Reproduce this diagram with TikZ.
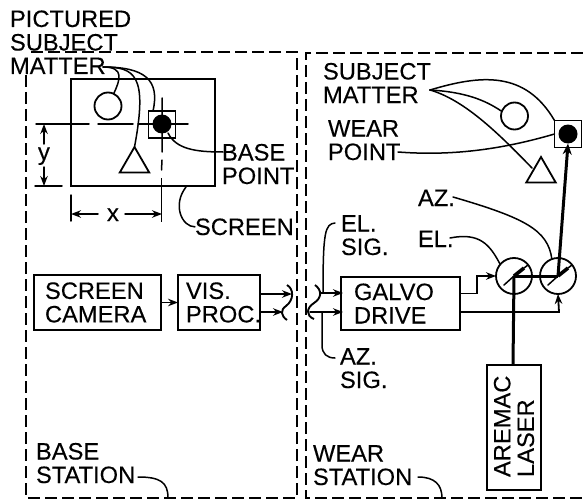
\documentclass[tikz,border=0pt]{standalone}
\usepackage{fontspec}
\setmainfont[FakeBold=0.25]{Liberation Sans}
\usetikzlibrary{arrows.meta,shapes.geometric}
\tikzset{
  lbl/.style={inner sep=0pt,outer sep=0pt,align=left,anchor=base west,font=\fontsize{23.7}{23.5}\selectfont},
  thinl/.style={line width=1.5pt,line cap=round},
  ln/.style={draw,line width=1.8pt},
  thickl/.style={line width=3pt},
  boundary/.style={line width=1.5pt,dash pattern=on 12pt off 5pt},
  arr/.style={-{Stealth[length=10pt,width=7.5pt]}},
  boxx/.style={ln,rectangle,inner sep=0pt,outer sep=0pt,align=left,font=\fontsize{23.7}{23.5}\selectfont},
  ring/.style={ln,circle,inner sep=0pt,outer sep=0pt},
  blob/.style={circle,fill=black,inner sep=0pt,outer sep=0pt,minimum size=19pt},
  frameb/.style={ln,rectangle,inner sep=0pt,outer sep=0pt,minimum size=27pt},
  tri/.style={ln,regular polygon,regular polygon sides=3,inner sep=0pt,outer sep=0pt,minimum size=34pt}
}
\begin{document}
\begin{tikzpicture}[x=1pt,y=-1pt]
\useasboundingbox (0,0) rectangle (583,500);
% station boundaries
\coordinate (bl) at (26,75); \coordinate (bb) at (26,498); \coordinate (br) at (297,498); \coordinate (bt) at (297,52); \coordinate (btl) at (27,52);
\draw[boundary] (bl) -- (bb) -- (br) -- (bt) -- (btl);
\coordinate (wt) at (583,53); \coordinate (wtl) at (306,53); \coordinate (wb) at (306,498); \coordinate (wbr) at (583,498);
\draw[boundary] (wt) -- (wtl) -- (wb) -- (wbr);
% left labels
\node[lbl] (pictured) at (10,74) {PICTURED\\SUBJECT\\MATTER};
\node[lbl] (basepoint) at (222,184) {BASE\\POINT};
\node[lbl] (screenlbl) at (195,235) {SCREEN};
\node[lbl] (basest) at (36,483) {BASE\\STATION};
% screen
\node[ln,rectangle,minimum width=144pt,minimum height=107pt,inner sep=0pt,outer sep=0pt] (screen) at (143,132.5) {};
\node[ring,minimum size=27pt] (c1) at (108,106) {};
\node[tri] (t1) at (134.5,164) {};
\node[frameb] (s1) at (162,124.5) {};
\node[blob] (d1) at (162,124) {};
% cross lines
\coordinate (h0) at (36,124); \coordinate (h1) at (89,124); \coordinate (h2) at (98,124); \coordinate (h3) at (133,124); \coordinate (h4) at (138,124); \coordinate (h5) at (188,124);
\draw[thinl] (h0)--(h1) (h2)--(h3) (h4)--(h5);
\coordinate (v0) at (162,98); \coordinate (v1) at (162,152); \coordinate (v2) at (162,160); \coordinate (v3) at (161.5,170); \coordinate (v4) at (161.5,178); \coordinate (v5) at (161.5,222);
\draw[thinl] (v0)--(v1) (v2)--(v3);
\draw[line width=1.9pt] (v4)--(v5);
\coordinate (r0) at (35,186); \coordinate (r1) at (62,186);
\draw[thinl] (r0)--(r1);
\coordinate (q0) at (71,195); \coordinate (q1) at (71,221);
\draw[thinl] (q0)--(q1);
% dimensions
\node[lbl] (ylbl) at (38,160) {y};
\node[lbl] (xlbl) at (107,221) {x};
\coordinate (ya) at (44,124); \coordinate (yb) at (44,144); \coordinate (yc) at (44,167); \coordinate (yd) at (44,186);
\draw[thinl,arr] (yb)--(ya);
\draw[thinl,arr] (yc)--(yd);
\coordinate (xa) at (71,214); \coordinate (xb) at (98,214); \coordinate (xc) at (125,214); \coordinate (xd) at (162,214);
\draw[thinl,arr] (xb)--(xa);
\draw[thinl,arr] (xc)--(xd);
% left leaders
\coordinate (m) at (103,67);
\draw[thinl] (m) .. controls (125,67) and (120,80) .. (c1.65);
\draw[thinl] (m) .. controls (135,67) and (148,75) .. (t1.north);
\draw[thinl] (m) .. controls (145,67) and (160,80) .. (153,111);
\coordinate (bp) at (223,152);
\draw[thinl] (168,133) .. controls (176,149) and (195,152) .. (bp);
\coordinate (sc) at (186,187);
\draw[thinl] (sc) .. controls (172,205) and (182,227) .. (screenlbl.west);
% base row
\node[boxx,minimum width=127pt,minimum height=55pt,text width=105pt] (cam) at (97.5,302.5) {SCREEN\\CAMERA};
\node[boxx,minimum width=82pt,minimum height=55pt,text width=66pt] (vis) at (219,302.5) {VIS.\\PROC.};
\draw[thinl,arr] (cam.east) -- (vis.west);
\coordinate (o1) at (292,294); \coordinate (o2) at (283,312);
\draw[thinl,arr] (vis.east |- o1) -- (o1);
\draw[thinl,arr] (vis.east |- o2) -- (o2);
\draw[line width=1.9pt] (287,285) .. controls (294,289) and (294,300) .. (286,306) .. controls (280,310) and (281,316) .. (287,320);
\draw[line width=1.9pt] (315,285) .. controls (322,290) and (322,298) .. (314,303) .. controls (306,308) and (306,316) .. (314,319);
% wear labels
\node[lbl] (smatter) at (323,103) {SUBJECT\\MATTER};
\node[lbl] (wearpt) at (328,160) {WEAR\\POINT};
\node[lbl] (azl) at (418,206) {AZ.};
\node[lbl] (ell) at (418,247) {EL.};
\node[lbl] (elsig) at (341,255) {EL.\\SIG.};
\node[lbl] (azsig) at (340,388) {AZ.\\SIG.};
\node[lbl] (wearst) at (313,485) {WEAR\\STATION};
% wear shapes
\node[ring,minimum size=27pt] (c2) at (514.5,116) {};
\node[tri] (t2) at (541,174) {};
\node[frameb] (s2) at (568,134) {};
\node[blob] (d2) at (568,134) {};
\node[boxx,minimum width=119pt,minimum height=53pt,text width=93pt] (galvo) at (400.5,303.5) {GALVO\\DRIVE};
\node[ring,minimum size=36pt] (g1) at (514,276) {};
\node[ring,minimum size=36pt] (g2) at (558,276) {};
\node[boxx,rotate=90,minimum width=125pt,minimum height=54pt,text width=99pt] (laser) at (514,427.5) {AREMAC\\LASER};
% wear connectors
\coordinate (sm) at (430,90);
\draw[thinl] (smatter.north east |- sm) ++(-1,0) -- (sm);
\draw[thinl] (sm) .. controls (480,75) and (525,70) .. (s2.north west);
\draw[thinl] (sm) .. controls (465,92) and (485,100) .. (c2.160);
\draw[thinl] (sm) .. controls (465,100) and (500,135) .. (532,168);
\draw[thinl] (398,152) .. controls (450,156) and (500,150) .. (s2.west);
\draw[thinl] (453,197) .. controls (525,218) and (548,230) .. (g2.110);
\draw[thinl] (450,238) .. controls (480,232) and (490,245) .. (g1.140);
% signal leaders
\coordinate (elj) at (323,293); \coordinate (azj) at (322,313);
\draw[thinl] (335,223) .. controls (325,224) and (323,232) .. (elj);
\draw[thinl] (azj) -- (322,345) .. controls (322,354) and (327,358) .. (335,358);
\coordinate (gi1) at (343,293); \coordinate (gi2) at (343,312);
\draw[thinl,arr] (320,293) -- (gi1);
\draw[thinl,arr] (310,312) -- (gi2);
% galvo outputs
\coordinate (ga) at (460,293.5); \coordinate (gb) at (477,293.5); \coordinate (gc) at (477,276); \coordinate (ge) at (460,312); \coordinate (gf) at (559,312);
\draw[ln,arr] (ga) -- (gb) -- (gc) -- (g1.west);
\draw[ln,arr] (ge) -- (gf) -- (g2.south);
% beam
\coordinate (lz) at (513,365);
\draw[thickl] (lz) -- (g1.center);
\draw[thickl] (g1.center) -- (g2.center);
\draw[thickl,-{Stealth[length=11pt,width=9pt]}] (g2.center) -- (d2.south);
% mirrors
\draw[thinl] (504,285) -- (514,276);
\draw[line width=3.6pt] (514,276) -- (524,268);
\draw[thinl] (524,268) -- (528,265);
\draw[thinl] (548,285) -- (558,276);
\draw[line width=3.6pt] (558,276) -- (568,268);
\draw[thinl] (568,268) -- (572,265);
% station leaders
\coordinate (bsend) at (168,498); \coordinate (wsend) at (442,498);
\draw[thinl] (138,477) .. controls (160,477) and (168,482) .. (bsend);
\draw[thinl] (418,477) .. controls (435,477) and (442,485) .. (wsend);
\end{tikzpicture}
\end{document}
